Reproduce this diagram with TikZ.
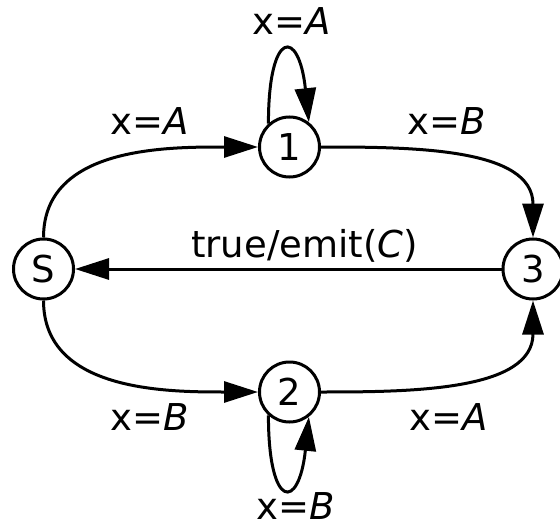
\documentclass[tikz,border=0pt]{standalone}
\usepackage{fontspec}
\setmainfont{DejaVu Sans}
\usetikzlibrary{arrows.meta, positioning}
\newcommand{\cnd}[1]{x=\textit{#1}}

\begin{document}
\begin{tikzpicture}[x=1pt, y=1pt]
  \tikzset{
    stnode/.style={
      draw,
      circle,
      line width=3pt,
      minimum size=60pt,
      inner sep=0pt,
      font=\fontsize{37}{40}\selectfont
    },
    trans/.style={
      line width=3pt,
      -{Triangle[length=34pt, width=21pt]}
    },
    lbl/.style={
      anchor=base,
      font=\fontsize{37}{40}\selectfont
    }
  }
  \useasboundingbox (0,0) rectangle (560,-527);

  % Draw the states
  \node[stnode] at (43.5, -269) (nS) {S};
  \node[stnode] at (289.5, -147) (n1) {1};
  \node[stnode] at (289.5, -392) (n2) {2};
  \node[stnode] at (533, -269) (n3) {3};

  % Transitions between states
  \draw[trans] (nS.north) to[out=90, in=180] (n1.west);
  \draw[trans] (n1.east) to[out=0, in=90] (n3.north);
  \draw[trans] (nS.south) to[out=-90, in=180] (n2.west);
  \draw[trans] (n2.east) to[out=0, in=-90] (n3.south);
  \draw[trans] (n3.west) -- (nS.east);

  % Self loops
  \draw[trans] (n1.132) .. controls +(90:95pt) and +(96:95pt) .. (n1.52);
  \draw[trans] (n2.228) .. controls +(270:95pt) and +(264:95pt) .. (n2.308);

  % Transition labels
  \node[lbl] at (292, -35) (l11) {\cnd{A}};
  \node[lbl] at (150, -134) (lS1) {\cnd{A}};
  \node[lbl] at (447, -134) (l13) {\cnd{B}};
  \node[lbl] at (304.5, -257) (l3S) {true/emit(\textit{C})};
  \node[lbl] at (150, -430) (lS2) {\cnd{B}};
  \node[lbl] at (449, -430) (l23) {\cnd{A}};
  \node[lbl] at (296, -519) (l22) {\cnd{B}};
\end{tikzpicture}
\end{document}
